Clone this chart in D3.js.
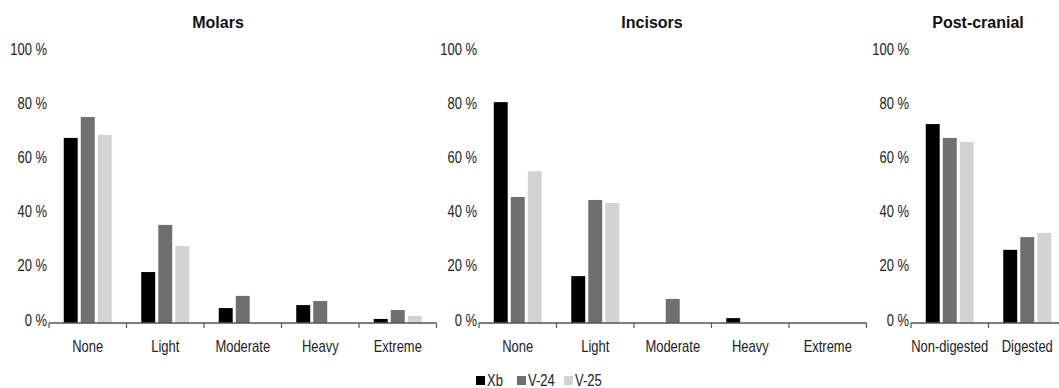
<!DOCTYPE html>
<html>
<head>
<meta charset="utf-8">
<script src="https://cdn.jsdelivr.net/npm/d3@7"></script>
<style>
  body { margin: 0; background: #fff; }
  svg text { font-family: "Liberation Sans", Arial, sans-serif; }
</style>
</head>
<body>
<svg id="chart"></svg>
<script>
// Donnees
const series = ["Xb", "V-24", "V-25"];
const colors = ["#000000", "#6f6f6f", "#d3d3d3"];
const yTicks = [0, 20, 40, 60, 80, 100];

const molarCats = ["None", "Light", "Moderate", "Heavy", "Extreme"];
const molarXb = [68.3, 18.8, 5.5, 6.6, 1.5];
const molarV24 = [76, 36.2, 10, 8.1, 4.8];
const molarV25 = [69.4, 28.4, 0, 0, 2.6];

const incisorCats = ["None", "Light", "Moderate", "Heavy", "Extreme"];
const incisorXb = [81.5, 17.3, 0, 1.8, 0];
const incisorV24 = [46.5, 45.4, 8.9, 0, 0];
const incisorV25 = [56, 44.3, 0, 0, 0];

const postCats = ["Non-digested", "Digested"];
const postXb = [73.4, 27];
const postV24 = [68.3, 31.7];
const postV25 = [66.8, 33.2];

const width = 1059;
const height = 388;

const svg = d3.select("#chart")
    .attr("width", width)
    .attr("height", height);

// texte etroit (type Arial Narrow) : police normale compressee en largeur
const narrow = 0.81;
function narrowText(sel, x, y) {
    return sel.attr("transform", (d, i) => `translate(${x(d, i)},${y(d, i)}) scale(${narrow},1)`)
        .style("font-size", "16px")
        .attr("fill", "#222");
}

// Panneaux (mise en page)
const panels = [
    { title: "Molars", cats: molarCats, values: [molarXb, molarV24, molarV25], x0: 49, titleX: 218 },
    { title: "Incisors", cats: incisorCats, values: [incisorXb, incisorV24, incisorV25], x0: 479, titleX: 652 },
    { title: "Post-cranial", cats: postCats, values: [postXb, postV24, postV25], x0: 911, titleX: 978 }
];

const catWidth = 77.5;
const y = d3.scaleLinear().domain([0, 100]).range([323, 52]);

panels.forEach(p => {
    const g = svg.append("g");
    const x = d3.scaleBand()
        .domain(p.cats)
        .range([p.x0, p.x0 + catWidth * p.cats.length]);

    const inner = d3.scaleBand()
        .domain(series)
        .range([0, 48])
        .paddingInner(0.18);

    // titre
    g.append("text")
        .attr("x", p.titleX)
        .attr("y", 28)
        .attr("text-anchor", "middle")
        .style("font-weight", "bold")
        .style("font-size", "16px")
        .attr("fill", "#111")
        .text(p.title);

    // etiquettes de l'axe y
    g.selectAll(".ylab")
        .data(yTicks)
        .join("text")
        .attr("class", "ylab")
        .attr("dy", "0.35em")
        .attr("text-anchor", "end")
        .call(narrowText, () => p.x0 - 2, d => y(d) - 3)
        .text(d => d + " %");

    // barres
    series.forEach((s, i) => {
        g.selectAll(".bar-" + i)
            .data(p.cats.map((c, j) => ({ cat: c, v: p.values[i][j] })).filter(d => d.v > 0))
            .join("rect")
            .attr("class", "bar-" + i)
            .attr("x", d => x(d.cat) + (x.bandwidth() - 48) / 2 + inner(s))
            .attr("y", d => y(d.v))
            .attr("width", inner.bandwidth())
            .attr("height", d => y(0) - y(d.v))
            .attr("fill", colors[i]);
    });

    // axe x
    const x1 = p.x0 + catWidth * p.cats.length;
    g.append("line")
        .attr("x1", p.x0).attr("x2", x1)
        .attr("y1", y(0)).attr("y2", y(0))
        .attr("stroke", "#555")
        .attr("stroke-width", 1.5);

    const bounds = p.cats.map(c => x(c)).concat([x1]);
    g.selectAll(".tick")
        .data(bounds)
        .join("line")
        .attr("class", "tick")
        .attr("x1", d => d).attr("x2", d => d)
        .attr("y1", y(0)).attr("y2", y(0) + 5)
        .attr("stroke", "#555")
        .attr("stroke-width", 1.2);

    g.selectAll(".xlab")
        .data(p.cats)
        .join("text")
        .attr("class", "xlab")
        .attr("text-anchor", "middle")
        .call(narrowText, d => x(d) + x.bandwidth() / 2, () => 352)
        .text(d => d);
});

// Legende
const legendX = [476, 517, 564];
const legend = svg.append("g");
series.forEach((s, i) => {
    legend.append("rect")
        .attr("x", legendX[i])
        .attr("y", 376)
        .attr("width", 9)
        .attr("height", 9)
        .attr("fill", colors[i]);
    legend.append("text")
        .datum(s)
        .call(narrowText, () => legendX[i] + 11, () => 386)
        .text(s);
});
</script>
</body>
</html>
